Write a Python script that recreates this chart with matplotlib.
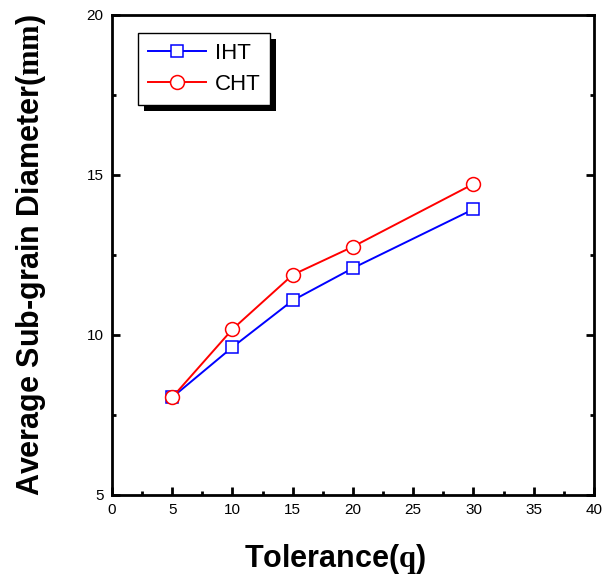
import matplotlib
matplotlib.use('Agg')
import matplotlib.pyplot as plt
from matplotlib.ticker import MultipleLocator
from matplotlib.patches import Rectangle

plt.rcParams['font.family'] = ['Liberation Sans', 'DejaVu Sans']
plt.rcParams['mathtext.fontset'] = 'custom'
plt.rcParams['mathtext.rm'] = 'Liberation Serif'
plt.rcParams['mathtext.bf'] = 'Liberation Serif:bold'

# data
tolerance = [5, 10, 15, 20, 30]
iht = [8.05, 9.62, 11.08, 12.09, 13.93]
cht = [8.05, 10.18, 11.88, 12.76, 14.72]

fig = plt.figure(figsize=(6.04, 5.8), dpi=100)
ax = fig.add_axes([0.1854, 0.1466, 0.798, 0.8276])

ax.plot(tolerance, iht, color='#0000ff', lw=1.4, marker='s', ms=9,
        mfc='white', mec='#0000ff', mew=1.1, label='IHT')
ax.plot(tolerance, cht, color='#ff0000', lw=1.4, marker='o', ms=10,
        mfc='white', mec='#ff0000', mew=1.1, label='CHT')

ax.set_xlim(0, 40)
ax.set_ylim(5, 20)
ax.xaxis.set_major_locator(MultipleLocator(5))
ax.xaxis.set_minor_locator(MultipleLocator(2.5))
ax.yaxis.set_major_locator(MultipleLocator(5))
ax.yaxis.set_minor_locator(MultipleLocator(2.5))
ax.tick_params(which='both', direction='in', top=True, right=True,
               labelsize=11, width=2, pad=6)
ax.tick_params(which='major', length=6)
ax.tick_params(which='minor', length=3)
ax.tick_params(axis='x', which='both', top=False)
for s in ax.spines.values():
    s.set_linewidth(2)

ax.set_xlabel(r'Tolerance($\mathbf{q}$)', fontsize=22, fontweight='bold')
ax.xaxis.set_label_coords(0.463, -0.098)
ax.set_ylabel(r'Average Sub-grain Diameter($\mathbf{mm}$)', fontsize=22,
              fontweight='bold')
ax.yaxis.set_label_coords(-0.132, 0.5)

leg = ax.legend(loc='upper left', bbox_to_anchor=(0.054, 0.9625), fontsize=16,
                frameon=True, fancybox=False, shadow=False, framealpha=1,
                handlelength=2.6, borderpad=0.45, labelspacing=0.45,
                handletextpad=0.4, borderaxespad=0)
leg.set_zorder(6)
leg.get_frame().set_edgecolor('black')
leg.get_frame().set_linewidth(1)

# solid black drop shadow behind the legend box
fig.canvas.draw()
bb = leg.get_window_extent().transformed(ax.transAxes.inverted())
ax.add_patch(Rectangle((bb.x0 + 6 / 482, bb.y0 - 6 / 480), bb.width, bb.height,
                       transform=ax.transAxes, facecolor='black',
                       edgecolor='none', zorder=5.5, clip_on=False))

fig.savefig('out.png', dpi=100)
